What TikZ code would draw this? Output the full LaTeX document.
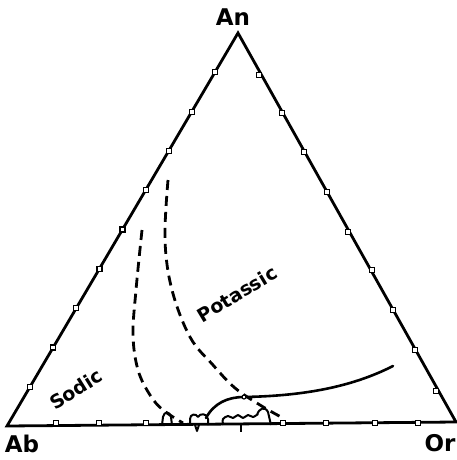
\documentclass[tikz,border=0pt]{standalone}
\usepackage{fontspec}
\setmainfont{DejaVu Sans}
\usetikzlibrary{calc}
\begin{document}
\begin{tikzpicture}[x=1pt,y=-1pt,
  side/.style={line width=2.8pt,line join=miter},
  tick/.style={draw,fill=white,line width=1.2pt,minimum size=5pt,inner sep=0pt,rectangle},
  bound/.style={line width=2.8pt,dash pattern=on 10pt off 6pt},
  field/.style={line width=2.6pt,line cap=round},
  blob/.style={line width=2pt,line join=round},
  corner/.style={font=\bfseries\fontsize{23}{23}\selectfont},
  region/.style={font=\bfseries\fontsize{19}{19}\selectfont}]
\useasboundingbox (0,0) rectangle (457,460);
\coordinate (Ab) at (7,426);
\coordinate (Or) at (456,422);
\coordinate (An) at (238,33);
\draw[side] (Ab) -- (An) -- (Or) -- cycle;
% ticks on left side
\foreach \i in {1,...,9}{
  \node[tick] (l\i) at ($(Ab)!\i/10!(An)$) {};
}
% ticks on right side
\foreach \p [count=\i] in {(259,75),(282,113),(304,152),(327,192),(348,232),(372,270),(393,310),(415,350),(436,391)}{
  \node[tick] (r\i) at \p {};
}
% ticks on base
\foreach \x [count=\i] in {56,99,146,283,326,375,418}{
  \node[tick,minimum size=4.5pt] (b\i) at (\x,423) {};
}
% dashed boundaries
\coordinate (s0) at (142,230);
\coordinate (s1) at (183,423);
\draw[bound] plot[smooth,tension=0.6] coordinates {(s0) (136,290) (133,335) (138,370) (150,395) (163,410) (s1)};
\coordinate (p0) at (168,180);
\coordinate (p1) at (281,417);
\draw[bound] plot[smooth,tension=0.6] coordinates {(p0) (165,240) (172,290) (190,337) (213,365) (235,388) (260,405) (p1)};
% solid field line
\coordinate (f0) at (206,418);
\coordinate (fj) at (244,397);
\coordinate (f1) at (393,366);
\draw[field] (f0) .. controls (214,403) and (228,397) .. (fj)
  .. controls (300,396) and (350,388) .. (f1);
\node[draw,fill=white,circle,inner sep=0pt,minimum size=4pt,line width=1.2pt] (jc) at (fj) {};
% small blobs along the base
\draw[blob] (162,425) -- (163,417) .. controls (164,411) and (170,411) .. (171,417) -- (172,425);
\draw[blob] (190,425) -- (190,419) .. controls (190,414) and (196,413) .. (198,417)
  .. controls (200,413) and (207,413) .. (208,419) -- (208,425);
\draw[blob] (195,425) -- (197,431) -- (199,425);
\draw[blob] plot[smooth,tension=0.5] coordinates {(223,425) (223,419) (228,416) (233,418) (238,415) (243,418) (248,415) (253,417) (258,414)};
\draw[blob] (257,415) .. controls (259,408) and (265,406) .. (268,412) -- (271,425);
\draw[blob] (241,425) -- (241,432);
% labels
\node[corner] (tAn) at (233,17) {An};
\node[corner] (tAb) at (22,444) {Ab};
\node[corner] (tOr) at (440,443) {Or};
\node[region,rotate=32] (tS) at (76,389) {Sodic};
\node[region,rotate=31] (tP) at (237,294) {Potassic};
\end{tikzpicture}
\end{document}
